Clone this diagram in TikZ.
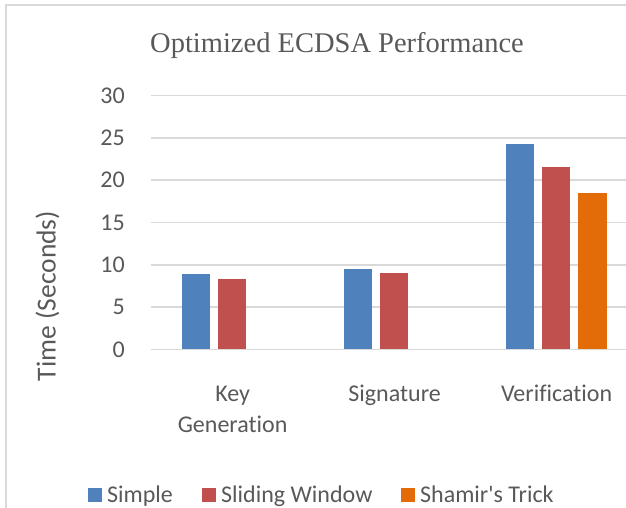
\documentclass[tikz,border=0pt]{standalone}
\usepackage{fontspec}
\setmainfont{Carlito}
\newfontfamily\calfont{Carlito}[Ligatures={NoCommon}]
\newfontfamily\titlefont{Liberation Serif}
\usepackage{xcolor}
\usepackage{tikz}
\usetikzlibrary{positioning}

\definecolor{simpleblue}{HTML}{4F81BD}
\definecolor{slidingred}{HTML}{C0504D}
\definecolor{shamirorange}{HTML}{E36C09}
\definecolor{gridgray}{HTML}{D9D9D9}
\definecolor{textgray}{HTML}{595959}

\begin{document}
\begin{tikzpicture}[
    x=1pt, y=-1pt,
    every node/.style={text=textgray, inner sep=0pt},
    gridline/.style={draw=gridgray, line width=1.5pt},
    ticklabel/.style={anchor=east, font=\calfont\fontsize{24}{29}\selectfont},
    catlabel/.style={anchor=base, align=center, font=\calfont\fontsize{24}{31}\selectfont},
    legendtext/.style={anchor=base west, font=\calfont\fontsize{24}{29}\selectfont},
    simplebar/.style={fill=simpleblue},
    slidingbar/.style={fill=slidingred},
    shamirbar/.style={fill=shamirorange}
]
\useasboundingbox (0,0) rectangle (626,508);

% Chart frame (left and top only, rest is cut off)
\draw[draw=gridgray, line width=1.5pt] (6,508) |- (626,5);

% Title
\node[anchor=base west, font=\titlefont\fontsize{28.5}{33}\selectfont] (title) at (150,53) {Optimized ECDSA Performance};

% Gridlines and value axis
\draw[gridline] (151,349.3) -- (626,349.3);
\draw[gridline] (151,307.0) -- (626,307.0);
\draw[gridline] (151,264.8) -- (626,264.8);
\draw[gridline] (151,222.5) -- (626,222.5);
\draw[gridline] (151,180.2) -- (626,180.2);
\draw[gridline] (151,138.0) -- (626,138.0);
\draw[gridline] (151,95.7) -- (626,95.7);

\node[ticklabel] (t0) at (125,349.3) {0};
\node[ticklabel] (t5) at (125,307.0) {5};
\node[ticklabel] (t10) at (125,264.8) {10};
\node[ticklabel] (t15) at (125,222.5) {15};
\node[ticklabel] (t20) at (125,180.2) {20};
\node[ticklabel] (t25) at (125,138.0) {25};
\node[ticklabel] (t30) at (125,95.7) {30};

\node[rotate=90, font=\calfont\fontsize{27.5}{32}\selectfont] (ytitle) at (47.5,296) {Time (Seconds)};

% Bars: Key Generation
\fill[simplebar] (182.3,349.3) rectangle (210.3,274.0);
\fill[slidingbar] (218.3,349.3) rectangle (246.3,279.3);
% Bars: Signature
\fill[simplebar] (344.3,349.3) rectangle (372.3,269.0);
\fill[slidingbar] (380.3,349.3) rectangle (408.3,273.3);
% Bars: Verification
\fill[simplebar] (506.3,349.3) rectangle (534.3,144.3);
\fill[slidingbar] (542.3,349.3) rectangle (570.3,167.0);
\fill[shamirbar] (578.3,349.3) rectangle (606.8,193.0);

% Category labels
\node[catlabel] (keygen) at (232.6,432.7) {Key\\Generation};
\node[catlabel] (sig) at (394.6,401.7) {Signature};
\node[catlabel] (ver) at (556.6,401.7) {Verification};

% Legend
\fill[simplebar] (88,488) rectangle (102,502);
\node[legendtext] (legsimple) at (107,502) {Simple};
\fill[slidingbar] (202,488) rectangle (216,502);
\node[legendtext] (legsliding) at (221,502) {Sliding Window};
\fill[shamirbar] (401,488) rectangle (415,502);
\node[legendtext] (legshamir) at (420,502) {Shamir's Trick};

\end{tikzpicture}
\end{document}
